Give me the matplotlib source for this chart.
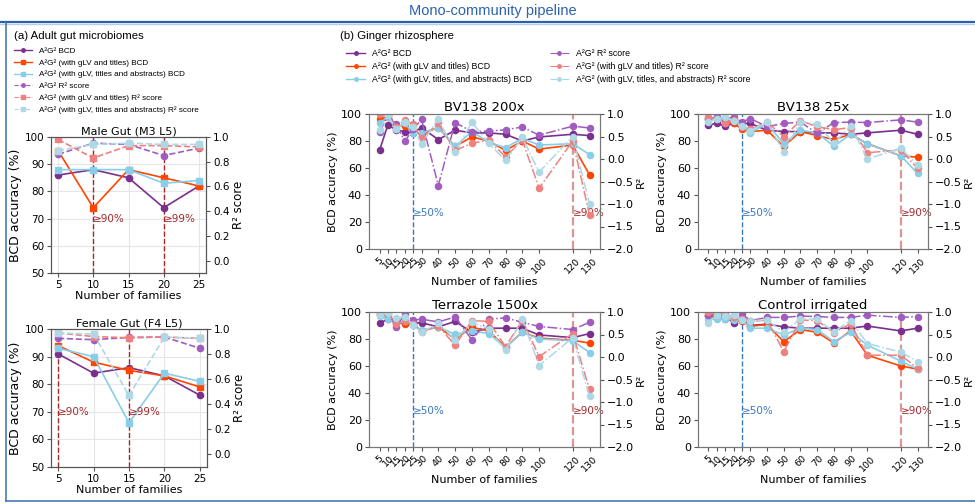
import matplotlib
matplotlib.use("Agg")
import matplotlib.pyplot as plt
from matplotlib.lines import Line2D

# -------------------------- Data --------------------------
gut_x = [5, 10, 15, 20, 25]

male_bcd = [86, 88, 85, 74, 82]
male_bcd_titles = [95, 74, 88, 85, 82]
male_bcd_abs = [88, 88, 88, 83, 84]
male_r2 = [0.86, 0.95, 0.94, 0.85, 0.91]
male_r2_titles = [0.98, 0.83, 0.93, 0.93, 0.92]
male_r2_abs = [0.89, 0.94, 0.95, 0.94, 0.94]
male_marks = [10, 20]
male_mark_labels = ["≥90%", "≥99%"]

female_bcd = [91, 84, 86, 83, 76]
female_bcd_titles = [94, 88, 85, 83, 79]
female_bcd_abs = [93, 90, 66, 84, 81]
female_r2 = [0.925, 0.915, 0.933, 0.936, 0.846]
female_r2_titles = [0.968, 0.94, 0.93, 0.936, 0.925]
female_r2_abs = [0.968, 0.96, 0.47, 0.936, 0.925]
female_marks = [5, 15]
female_mark_labels = ["≥90%", "≥99%"]

fam_x = [5, 10, 15, 20, 25, 30, 40, 50, 60, 70, 80, 90, 100, 120, 130]

bv200_bcd = [73, 92, 88, 87, 86, 90, 81, 88, 86, 86, 85, 80, 83, 85, 84]
bv200_bcd_titles = [96, 98, 92, 91, 87, 85, 90, 76, 83, 80, 73, 80, 74, 77, 55]
bv200_bcd_abs = [93, 98, 89, 93, 86, 86, 90, 76, 87, 79, 75, 82, 77, 78, 70]
bv200_r2 = [0.60, 0.98, 0.78, 0.39, 0.66, 0.88, -0.59, 0.81, 0.61, 0.62, 0.65, 0.71, 0.53, 0.73, 0.69]
bv200_r2_titles = [0.99, 0.97, 0.72, 0.87, 0.77, 0.46, 0.79, 0.19, 0.35, 0.42, 0.05, 0.42, -0.65, 0.40, -1.24]
bv200_r2_abs = [0.65, 0.97, 0.66, 0.83, 0.72, 0.33, 0.89, 0.16, 0.82, 0.35, -0.03, 0.48, -0.29, 0.50, -1.0]

bv25_bcd = [92, 93, 91, 93, 93, 93, 88, 87, 87, 86, 86, 85, 86, 88, 85]
bv25_bcd_titles = [97, 96, 94, 93, 89, 87, 88, 76, 87, 84, 81, 85, 78, 69, 68]
bv25_bcd_abs = [96, 98, 93, 96, 91, 86, 93, 78, 88, 86, 76, 85, 78, 69, 56]
bv25_r2 = [0.88, 0.94, 0.88, 0.94, 0.82, 0.90, 0.72, 0.79, 0.82, 0.57, 0.81, 0.82, 0.81, 0.87, 0.82]
bv25_r2_titles = [0.93, 0.88, 0.81, 0.87, 0.72, 0.66, 0.82, 0.50, 0.85, 0.72, 0.65, 0.70, 0.14, 0.20, -0.21]
bv25_r2_abs = [0.82, 0.90, 0.94, 0.84, 0.74, 0.63, 0.82, 0.16, 0.82, 0.78, 0.35, 0.73, 0.0, 0.24, -0.13]

terra_bcd = [92, 94.5, 92, 92, 92, 92, 89, 93, 85, 88, 88, 88, 83, 81, 84]
terra_bcd_titles = [98.5, 97, 93, 91, 91, 86, 89, 80, 88.6, 86, 74, 85, 80.7, 79, 77]
terra_bcd_abs = [97, 94.5, 92, 93, 90.6, 86.6, 89, 83.4, 86, 84, 73.5, 85, 80, 78.7, 70]
terra_r2 = [0.96, 1.0, 0.66, 0.96, 0.82, 0.84, 0.78, 0.89, 0.38, 0.84, 0.87, 0.77, 0.68, 0.61, 0.77]
terra_r2_titles = [0.99, 0.97, 0.73, 0.81, 0.73, 0.56, 0.69, 0.26, 0.81, 0.79, 0.23, 0.82, 0.01, 0.52, -0.72]
terra_r2_abs = [0.94, 0.97, 0.87, 0.90, 0.72, 0.55, 0.75, 0.38, 0.77, 0.62, 0.15, 0.84, -0.19, 0.43, -0.87]

ctrl_bcd = [98, 98, 96.5, 92, 94.5, 90, 91, 89, 88, 88, 88, 88, 89.6, 86, 88]
ctrl_bcd_titles = [97, 96, 94.5, 94.5, 93, 89.6, 90.6, 78, 87, 85, 77, 86, 68, 60, 57.7]
ctrl_bcd_abs = [95, 94.5, 95, 94, 94.5, 88, 88, 83, 88, 87, 78, 85, 75.5, 63.6, 57.7]
ctrl_r2 = [0.93, 0.97, 0.93, 0.91, 0.96, 0.81, 0.88, 0.88, 0.91, 0.90, 0.88, 0.88, 0.93, 0.88, 0.90]
ctrl_r2_titles = [0.99, 0.96, 0.94, 0.90, 0.85, 0.79, 0.82, 0.12, 0.82, 0.81, 0.54, 0.74, 0.04, 0.04, -0.25]
ctrl_r2_abs = [0.76, 0.93, 0.91, 0.93, 0.82, 0.81, 0.82, 0.55, 0.85, 0.84, 0.56, 0.81, 0.30, 0.11, -0.10]

# -------------------------- Styles --------------------------
c_bcd = '#7b2f8f'
c_bcd_t = '#ff4500'
c_bcd_a = '#87ceeb'
c_r2 = '#a15cc0'
c_r2_t = '#f08080'
c_r2_a = '#add8e6'
frame_blue = '#2a62ad'
mark_red = '#a3282b'
mark_blue = '#3a78c0'
spine_col = '#555555'
head_font = 'Liberation Sans'

W, H = 975, 504
fig = plt.figure(figsize=(W / 100, H / 100), dpi=100)


def px_axes(l, t, r, b):
    return fig.add_axes([l / W, 1 - b / H, (r - l) / W, (b - t) / H])


# -------------------------- Frame and headers --------------------------
fig.add_artist(Line2D([0, 1], [1 - 22 / H, 1 - 22 / H], color=frame_blue, lw=1.6))
fig.add_artist(Line2D([0, 1], [1 - 23.8 / H, 1 - 23.8 / H], color='#b7cde9', lw=1))
fig.add_artist(Line2D([6 / W, 6 / W], [1 - 23 / H, 1 - 501 / H], color='#4a78b8', lw=1.2))
fig.add_artist(Line2D([6 / W, 1], [1 - 501 / H, 1 - 501 / H], color='#4a78b8', lw=1.2))
fig.text(493 / W, 1 - 11 / H, "Mono-community pipeline", ha='center', va='center',
         color=frame_blue, fontsize=10.5, family=head_font)
fig.text(14 / W, 1 - 36 / H, "(a) Adult gut microbiomes", ha='left', va='center',
         fontsize=8.2, family=head_font)
fig.text(340 / W, 1 - 36 / H, "(b) Ginger rhizosphere", ha='left', va='center',
         fontsize=8.2, family=head_font)


# -------------------------- Panel (a) --------------------------
def gut_panel(box, title, bcd, bcd_t, bcd_a, r2, r2_t, r2_a, marks, mark_labels):
    ax = px_axes(*box)
    ax2 = ax.twinx()
    ax.plot(gut_x, bcd, '-o', color=c_bcd, ms=4.5, lw=1.2, zorder=3)
    ax.plot(gut_x, bcd_t, '-s', color=c_bcd_t, ms=4.5, lw=1.2, zorder=3)
    ax.plot(gut_x, bcd_a, '-s', color=c_bcd_a, ms=4.5, lw=1.2, zorder=3)
    ax2.plot(gut_x, r2, '--o', color=c_r2, ms=4.5, lw=1.2)
    ax2.plot(gut_x, r2_t, '--s', color=c_r2_t, ms=4.5, lw=1.2)
    ax2.plot(gut_x, r2_a, '--s', color=c_r2_a, ms=4.5, lw=1.2)
    for m, lab in zip(marks, mark_labels):
        ax.axvline(m, color=mark_red, ls='--', lw=1)
        ax.text(m, 70, lab, color=mark_red, fontsize=7.5, ha='left', va='center')
    ax.set_ylim(50, 100)
    ax2.set_ylim(-0.1, 1.0)
    ax.set_xticks(gut_x)
    ax2.set_yticks([0.0, 0.2, 0.4, 0.6, 0.8, 1.0])
    ax.grid(True, color='#e6e6e6', lw=0.8)
    ax.set_axisbelow(True)
    ax.set_title(title, fontsize=8, pad=2)
    ax.set_xlabel("Number of families", fontsize=8, labelpad=1)
    ax.set_ylabel("BCD accuracy (%)", fontsize=9, labelpad=2)
    ax2.set_ylabel("R² score", fontsize=8.5, labelpad=2)
    for a in (ax, ax2):
        a.tick_params(labelsize=7.5, length=3, pad=2, color=spine_col)
        for s in a.spines.values():
            s.set_color(spine_col)


gut_panel((51, 137, 206, 273), "Male Gut (M3 L5)", male_bcd, male_bcd_titles, male_bcd_abs,
          male_r2, male_r2_titles, male_r2_abs, male_marks, male_mark_labels)
gut_panel((51, 329, 207, 467), "Female Gut (F4 L5)", female_bcd, female_bcd_titles, female_bcd_abs,
          female_r2, female_r2_titles, female_r2_abs, female_marks, female_mark_labels)

leg_a = [
    Line2D([], [], color=c_bcd, marker='o', ms=2.5, lw=1, label="A²G² BCD"),
    Line2D([], [], color=c_bcd_t, marker='s', ms=2.5, lw=1, label="A²G² (with gLV and titles) BCD"),
    Line2D([], [], color=c_bcd_a, marker='s', ms=2.5, lw=1, label="A²G² (with gLV, titles and abstracts) BCD"),
    Line2D([], [], color=c_r2, marker='o', ms=2.5, lw=0.8, ls='--', label="A²G² R² score"),
    Line2D([], [], color=c_r2_t, marker='s', ms=2.5, lw=0.8, ls='--', label="A²G² (with gLV and titles) R² score"),
    Line2D([], [], color=c_r2_a, marker='s', ms=2.5, lw=0.8, ls='--', label="A²G² (with gLV, titles and abstracts) R² score"),
]
fig.legend(handles=leg_a, loc='upper left', bbox_to_anchor=(14 / W, 1 - 47 / H), frameon=False,
           prop={'family': head_font, 'size': 5.9}, borderpad=0, borderaxespad=0,
           labelspacing=0.5, handlelength=2.2)


# -------------------------- Panel (b) --------------------------
def ginger_panel(box, title, bcd, bcd_t, bcd_a, r2, r2_t, r2_a):
    ax = px_axes(*box)
    ax2 = ax.twinx()
    ax.plot(fam_x, bcd, '-o', color=c_bcd, ms=4.4, lw=1.2, zorder=3)
    ax.plot(fam_x, bcd_t, '-o', color=c_bcd_t, ms=4.4, lw=1.2, zorder=3)
    ax.plot(fam_x, bcd_a, '-o', color=c_bcd_a, ms=4.4, lw=1.2, zorder=3)
    ax2.plot(fam_x, r2, '-.o', color=c_r2, ms=4.4, lw=1.1)
    ax2.plot(fam_x, r2_t, '-.o', color=c_r2_t, ms=4.4, lw=1.1)
    ax2.plot(fam_x, r2_a, '-.o', color=c_r2_a, ms=4.4, lw=1.1)
    ax.axvline(25, color=mark_blue, ls='--', lw=1)
    ax.axvline(120, color='#c0504d', ls='--', lw=1.6, alpha=0.6)
    ax.text(25, 27, "≥50%", color=mark_blue, fontsize=7.5, ha='left', va='center')
    ax.text(120, 27, "≥90%", color=mark_red, fontsize=7.5, ha='left', va='center')
    ax.set_ylim(0, 100)
    ax2.set_ylim(-2.0, 1.0)
    ax.set_xticks(fam_x)
    ax.set_xticklabels([str(v) for v in fam_x], rotation=45, fontsize=6.8)
    ax2.set_yticks([-2.0, -1.5, -1.0, -0.5, 0.0, 0.5, 1.0])
    ax.set_title(title, fontsize=9.5, pad=2)
    ax.set_xlabel("Number of families", fontsize=8, labelpad=1)
    ax.set_ylabel("BCD accuracy (%)", fontsize=8, labelpad=2)
    ax2.set_ylabel("R²", fontsize=8, labelpad=1)
    ax.tick_params(axis='y', labelsize=8)
    ax2.tick_params(axis='y', labelsize=8)
    for a in (ax, ax2):
        a.tick_params(length=3, pad=2, color=spine_col)
        for s in a.spines.values():
            s.set_color('#777777')


ginger_panel((369, 114, 600, 249), "BV138 200x", bv200_bcd, bv200_bcd_titles, bv200_bcd_abs,
             bv200_r2, bv200_r2_titles, bv200_r2_abs)
ginger_panel((698, 114, 928, 249), "BV138 25x", bv25_bcd, bv25_bcd_titles, bv25_bcd_abs,
             bv25_r2, bv25_r2_titles, bv25_r2_abs)
ginger_panel((369, 312, 600, 447), "Terrazole 1500x", terra_bcd, terra_bcd_titles, terra_bcd_abs,
             terra_r2, terra_r2_titles, terra_r2_abs)
ginger_panel((698, 312, 928, 447), "Control irrigated", ctrl_bcd, ctrl_bcd_titles, ctrl_bcd_abs,
             ctrl_r2, ctrl_r2_titles, ctrl_r2_abs)

leg_b = [
    Line2D([], [], color=c_bcd, marker='o', ms=2.5, lw=1, label="A²G² BCD"),
    Line2D([], [], color=c_bcd_t, marker='o', ms=2.5, lw=1, label="A²G² (with gLV and titles) BCD"),
    Line2D([], [], color=c_bcd_a, marker='o', ms=2.5, lw=1, label="A²G² (with gLV, titles, and abstracts) BCD"),
    Line2D([], [], color=c_r2, marker='o', ms=2.5, lw=0.8, ls='-.', label="A²G² R² score"),
    Line2D([], [], color=c_r2_t, marker='o', ms=2.5, lw=0.8, ls='-.', label="A²G² (with gLV and titles) R² score"),
    Line2D([], [], color=c_r2_a, marker='o', ms=2.5, lw=0.8, ls='-.', label="A²G² (with gLV, titles, and abstracts) R² score"),
]
fig.legend(handles=leg_b, loc='upper left', bbox_to_anchor=(346 / W, 1 - 49 / H), frameon=False,
           ncol=2, prop={'family': head_font, 'size': 6.3}, borderpad=0, borderaxespad=0,
           labelspacing=0.45, handlelength=2.2, columnspacing=2.0)

fig.savefig("out.png", dpi=100)
